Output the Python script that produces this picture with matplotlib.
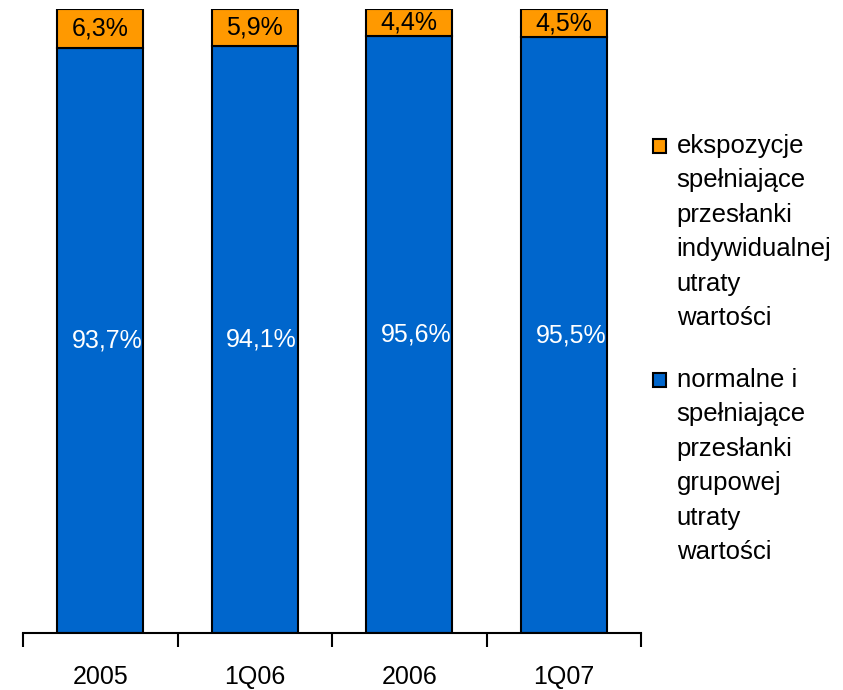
import matplotlib
matplotlib.use("Agg")
import matplotlib.pyplot as plt
from matplotlib.patches import Rectangle
from matplotlib.legend_handler import HandlerPatch

plt.rcParams['font.family'] = ['Liberation Sans', 'DejaVu Sans']

categories = ["2005", "1Q06", "2006", "1Q07"]
normal_vals = [93.7, 94.1, 95.6, 95.5]
impaired_vals = [6.3, 5.9, 4.4, 4.5]
normal_labels = ["93,7%", "94,1%", "95,6%", "95,5%"]
impaired_labels = ["6,3%", "5,9%", "4,4%", "4,5%"]
legend_impaired = "ekspozycje\nspełniające\nprzesłanki\nindywidualnej\nutraty\nwartości"
legend_normal = "normalne i\nspełniające\nprzesłanki\ngrupowej\nutraty\nwartości"

BLUE = "#0066CC"
ORANGE = "#FF9900"
FS = 18

fig = plt.figure(figsize=(8.43, 6.9), dpi=100)
ax = fig.add_axes([23 / 843, 57 / 690, 618 / 843, 624 / 690])

x = list(range(len(categories)))
width = 0.557
b_norm = ax.bar(x, normal_vals, width, color=BLUE, edgecolor="black", linewidth=1.5)
b_imp = ax.bar(x, impaired_vals, width, bottom=normal_vals, color=ORANGE,
               edgecolor="black", linewidth=1.5)

for i in x:
    ax.annotate(normal_labels[i], (i, normal_vals[i] / 2), xytext=(5, 0),
                textcoords="offset points", ha="center", va="center",
                color="white", fontsize=FS)
    ax.annotate(impaired_labels[i], (i, normal_vals[i] + impaired_vals[i] / 2),
                xytext=(0, 0), textcoords="offset points", ha="center",
                va="center", color="black", fontsize=FS)

ax.set_xlim(-0.5, len(categories) - 0.5)
ax.set_ylim(0, 100)
for s in ("left", "right", "top"):
    ax.spines[s].set_visible(False)
ax.spines["bottom"].set_linewidth(1.5)
ax.set_yticks([])

# boundary ticks between categories, labels centred under the bars
ax.set_xticks([i - 0.5 for i in range(len(categories) + 1)])
ax.set_xticklabels([])
ax.set_xticks(x, minor=True)
ax.set_xticklabels(categories, minor=True, fontsize=FS)
ax.tick_params(axis="x", which="major", length=10, width=1.5, direction="out")
ax.tick_params(axis="x", which="minor", length=0, pad=23)

LINE_SPACING = 1.55
LINE_PT = 34.6 * 0.72
SQ_W, SQ_H = 9.4, 10.0


def square_on_first_line(nlines):
    def make(legend, orig_handle, xdescent, ydescent, width, height, fontsize):
        cy = -ydescent + height / 2 + (nlines - 1) / 2 * LINE_PT
        return Rectangle((-xdescent + width - SQ_W, cy - SQ_H / 2), SQ_W, SQ_H)
    return HandlerPatch(patch_func=make)


leg = fig.legend(
    [b_imp[0], b_norm[0]], [legend_impaired, legend_normal],
    handler_map={b_imp[0]: square_on_first_line(6), b_norm[0]: square_on_first_line(6)},
    loc="upper left", bbox_to_anchor=(651 / 843, 1 - 134 / 690),
    frameon=False, fontsize=18.5, handlelength=0.6, handletextpad=0.4,
    labelspacing=1.47, borderpad=0, borderaxespad=0,
)
for t in leg.get_texts():
    t.set_linespacing(LINE_SPACING)

fig.savefig("out.png", dpi=100)
